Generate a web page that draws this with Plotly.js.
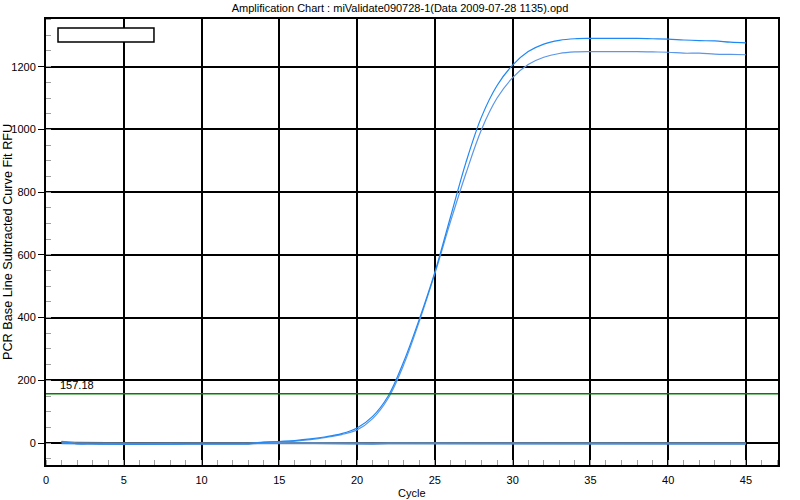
<!DOCTYPE html>
<html><head><meta charset="utf-8">
<script src="https://cdn.plot.ly/plotly-3.0.1.min.js"></script>
<style>html,body{margin:0;padding:0;background:#fff}#chart{width:800px;height:500px}</style>
</head><body><div id="chart"></div>
<script>
const chartTitle = "Amplification Chart : miValidate090728-1(Data 2009-07-28 1135).opd";
const xTitle = "Cycle";
const yTitle = "PCR Base Line Subtracted Curve Fit RFU";
const threshold = 157.18;
const cycles = [1,2,3,4,5,6,7,8,9,10,11,12,13,14,15,16,17,18,19,20,21,22,23,24,25,26,27,28,29,30,31,32,33,34,35,36,37,38,39,40,41,42,43,44,45];
const sampleA = [5,-2,-2,-3,-3,-3,-3,-3,-2,-2,-2,-2,-2,2,5,8,13,20,30,48,85,150,260,395,545,720,895,1040,1140,1205,1248,1272,1284,1289,1290,1290,1290,1290,1289,1288,1285,1283,1282,1278,1276];
const sampleB = [5,-2,-2,-3,-3,-3,-3,-3,-2,-2,-2,-2,-2,1,3,6,11,18,27,42,78,143,250,388,540,705,860,1000,1100,1165,1207,1230,1242,1247,1248,1248,1248,1248,1247,1246,1243,1243,1240,1239,1238];
const ntcBlack = [1,0,0,0,0,0,0,0,0,0,0,0,0,0,0,0,0,-1,-1,-1,-1,0,0,-1,-1,0,-1,-1,0,0,0,0,0,0,0,0,0,0,-1,-1,0,0,0,0,0];
const ntcGray = [4,-1,-1,-1,-1,-1,-1,-1,-1,-1,-1,-1,-1,0,0,0,0,0,0,0,0,0,0,0,0,-1,0,0,0,0,0,0,0,0,-1,-1,-1,0,0,0,-1,-1,0,-1,-1];
const ntcBlue = [-1,-2,-2,-2,-3,-3,-2,-2,-2,-2,-2,-2,-2,2,3,1,0,-1,-1,-2,-2,-1,-1,-1,-2,-1,-2,-2,-1,-1,-1,-1,-1,-1,-2,-1,-2,-1,-1,-1,-2,-1,-1,-2,-2];

const traces = [
  {x: cycles, y: ntcBlack, type:'scatter', mode:'lines', line:{color:'#111111', width:2}, hoverinfo:'skip'},
  {x: cycles, y: ntcBlue, type:'scatter', mode:'lines', line:{color:'#2f86e8', width:2}, hoverinfo:'skip'},
  {x: cycles, y: ntcGray, type:'scatter', mode:'lines', line:{color:'#6d87a3', width:2}, hoverinfo:'skip'},
  {x: cycles, y: sampleB, type:'scatter', mode:'lines', line:{color:'#5b96e8', width:1.2, shape:'spline'}},
  {x: cycles, y: sampleA, type:'scatter', mode:'lines', line:{color:'#1e88f5', width:1.2, shape:'spline'}}
];

const fontFam = 'Liberation Sans, Arial, sans-serif';
const layout = {
  width: 800, height: 500,
  margin: {l:46, r:22, t:19, b:35},
  paper_bgcolor:'#fff', plot_bgcolor:'#fff',
  showlegend:false,
  font:{family:fontFam, size:11, color:'#000'},
  title:{text: chartTitle, x:0.5, xref:'container', xanchor:'center', y:0.984, yanchor:'middle', font:{family:fontFam, size:11, color:'#000'}},
  xaxis:{range:[0,47.06], dtick:5, tick0:0, showgrid:true, gridcolor:'#000', gridwidth:2, zeroline:false,
         showline:true, linecolor:'#000', linewidth:2, mirror:true,
         ticks:'outside', ticklen:4, tickcolor:'rgba(0,0,0,0)', tickfont:{size:11},
         minor:{dtick:1, ticks:'inside', ticklen:5, tickcolor:'#a0a0a0', tickwidth:1, showgrid:false}},
  yaxis:{range:[-70,1352], dtick:200, tick0:0, showgrid:true, gridcolor:'#000', gridwidth:2, zeroline:true, zerolinecolor:'#000', zerolinewidth:2,
         showline:true, linecolor:'#000', linewidth:2, mirror:true,
         ticks:'outside', ticklen:6, tickcolor:'#000', tickfont:{size:11},
         minor:{dtick:50, ticks:'inside', ticklen:5, tickcolor:'#a0a0a0', tickwidth:1, showgrid:false}},
  shapes:[
    {type:'line', xref:'paper', x0:0, x1:1, yref:'y', y0:threshold, y1:threshold, line:{color:'#008000', width:1.5}},
    {type:'rect', xref:'paper', yref:'paper', x0:0.0164, x1:0.1475, y0:0.9484, y1:0.9798, line:{color:'#000', width:1.5}, fillcolor:'#fff'}
  ],
  annotations:[
    {text: threshold.toFixed(2), xref:'x', x:0.75, yref:'y', y:threshold, xanchor:'left', yanchor:'bottom', yshift:1, showarrow:false, font:{size:11, color:'#000'}},
    {text: xTitle, xref:'paper', x:0.5, yref:'paper', y:0, yshift:-28, xanchor:'center', yanchor:'middle', showarrow:false, font:{size:11, color:'#000'}},
    {text: yTitle, xref:'paper', x:0, xshift:-38, yref:'paper', y:0.5, xanchor:'center', yanchor:'middle', textangle:-90, showarrow:false, font:{size:12.7, color:'#000'}}
  ]
};
Plotly.newPlot('chart', traces, layout, {staticPlot:true, displayModeBar:false});
</script></body></html>
